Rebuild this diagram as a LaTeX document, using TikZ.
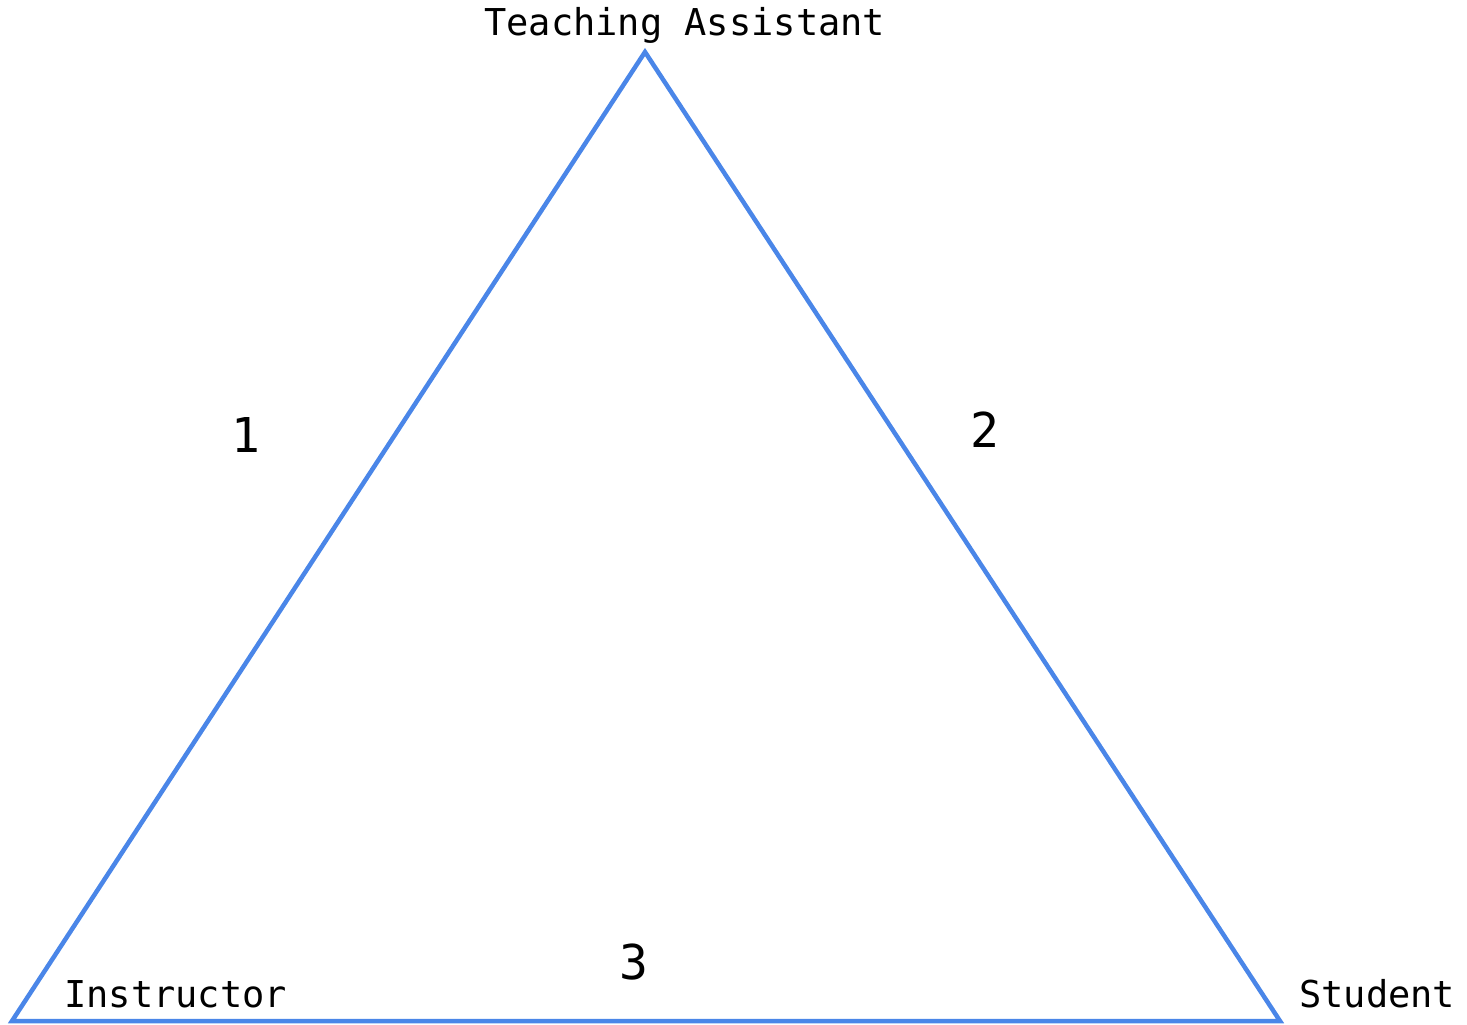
\documentclass[tikz,border=0pt]{standalone}
\usepackage{fontspec}
\setmonofont{DejaVu Sans Mono}
\definecolor{triblue}{HTML}{4A86E8}
\tikzset{
  edge/.style={draw=triblue, line width=4.5pt, line join=miter},
  vlabel/.style={inner sep=0pt, anchor=base west, font=\ttfamily\fontsize{37}{44}\selectfont},
  nlabel/.style={inner sep=0pt, anchor=base, font=\ttfamily\fontsize{48}{58}\selectfont}
}
\begin{document}
\begin{tikzpicture}[x=1pt,y=-1pt]
\useasboundingbox (0,0) rectangle (1467,1025);
\coordinate (ta) at (645,52);
\coordinate (in) at (12,1021);
\coordinate (st) at (1280,1021);
\draw[edge] (ta) -- (in) -- (st) -- cycle;
\node[vlabel] (tal) at (484,36) {Teaching Assistant};
\node[vlabel] (inl) at (64,1007) {Instructor};
\node[vlabel] (stl) at (1299,1007) {Student};
\node[nlabel] (n1) at (246,452) {1};
\node[nlabel] (n2) at (985,447) {2};
\node[nlabel] (n3) at (634,979) {3};
\end{tikzpicture}
\end{document}
